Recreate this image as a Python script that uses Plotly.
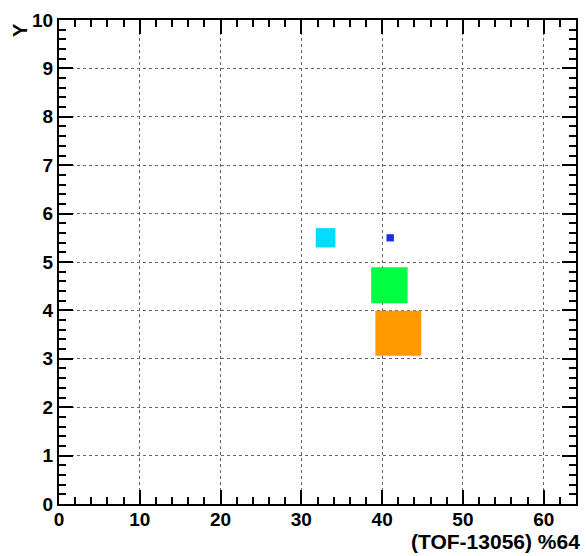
import plotly.graph_objects as go

# 2D histogram cells drawn as boxes (box size ~ bin content)
bin_x = [33.0, 41.0, 40.9, 42.0]        # bin centres along (TOF-13056)%64
bin_y = [5.5, 5.5, 4.52, 3.53]          # bin centres along Y
content = [40, 15, 74, 93]              # relative bin content (max box = 100)
colors = ["#00DDFF", "#1A2EF0", "#00FF40", "#FF9900"]

x_bin_width = 6.1
y_bin_width = 1.0
full_content = 100.0

fig = go.Figure()
for xc, yc, c, col in zip(bin_x, bin_y, content, colors):
    f = c / full_content
    hx = 0.5 * x_bin_width * f
    hy = 0.5 * y_bin_width * f
    fig.add_trace(go.Scatter(
        x=[xc - hx, xc + hx, xc + hx, xc - hx, xc - hx],
        y=[yc - hy, yc - hy, yc + hy, yc + hy, yc - hy],
        mode="lines", fill="toself", fillcolor=col,
        line=dict(width=0, color=col), hoverinfo="skip", showlegend=False,
    ))

FAMILY = "Liberation Sans, Arial, sans-serif"
tick_font = dict(family=FAMILY, size=19, color="black")
axis_common = dict(
    showline=True, linecolor="black", linewidth=2, mirror="allticks",
    ticks="inside", ticklen=14, tickwidth=1.5, tickcolor="black",
    showgrid=True, gridcolor="#666666", griddash="dot", gridwidth=1,
    zeroline=False, tickfont=tick_font,
    tickprefix="<b>", ticksuffix="</b>",
)

fig.update_xaxes(range=[0, 64], dtick=10, tick0=0, ticklabelstandoff=-3,
                 minor=dict(ticks="inside", ticklen=7, tickwidth=1.5, dtick=2,
                            tickcolor="black", showgrid=False),
                 **axis_common)
fig.update_yaxes(range=[0, 10], dtick=1, tick0=0,
                 minor=dict(ticks="inside", ticklen=7, tickwidth=1.5, dtick=0.2,
                            tickcolor="black", showgrid=False),
                 **axis_common)

fig.update_layout(
    width=588, height=556,
    margin=dict(l=59, r=10, t=18, b=52),
    paper_bgcolor="white", plot_bgcolor="white",
    font=tick_font,
    annotations=[
        dict(text="<b>(TOF-13056) %64</b>", xref="paper", yref="paper",
             x=1.0, y=0, xanchor="right", yanchor="middle", xshift=6, yshift=-37,
             showarrow=False, font=dict(family=FAMILY, size=21, color="black")),
        dict(text="<b>Y</b>", xref="paper", yref="paper",
             x=0, y=1, xanchor="center", yanchor="middle", xshift=-39, yshift=-10,
             textangle=-90, showarrow=False,
             font=dict(family=FAMILY, size=20, color="black")),
    ],
)

fig.write_html("out.html")
